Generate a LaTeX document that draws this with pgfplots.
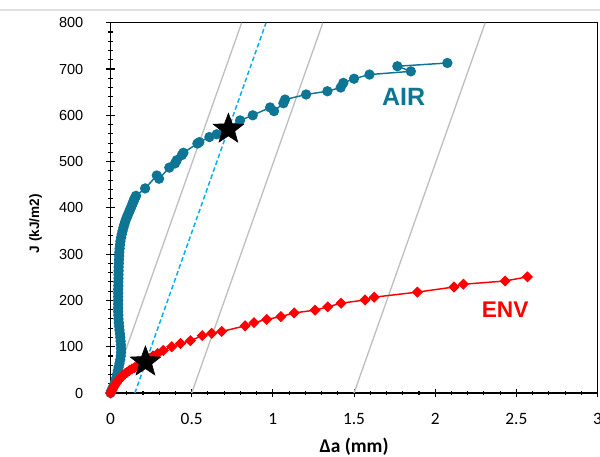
\documentclass[border=0pt]{standalone}
\usepackage{fontspec}
\setmainfont{Liberation Sans}
\newfontfamily\carlito{Carlito}
\usepackage{pgfplots}
\pgfplotsset{compat=1.18}
\definecolor{airteal}{RGB}{14,118,148}
\definecolor{envred}{RGB}{255,0,0}
\definecolor{blgray}{RGB}{191,191,191}
\definecolor{offcyan}{RGB}{0,176,240}

% filled five-pointed star
\pgfdeclareplotmark{fstar}{%
  \pgfpathmoveto{\pgfpointpolar{90}{\pgfplotmarksize}}%
  \pgfpathlineto{\pgfpointpolar{126}{0.42\pgfplotmarksize}}%
  \pgfpathlineto{\pgfpointpolar{162}{\pgfplotmarksize}}%
  \pgfpathlineto{\pgfpointpolar{198}{0.42\pgfplotmarksize}}%
  \pgfpathlineto{\pgfpointpolar{234}{\pgfplotmarksize}}%
  \pgfpathlineto{\pgfpointpolar{270}{0.42\pgfplotmarksize}}%
  \pgfpathlineto{\pgfpointpolar{306}{\pgfplotmarksize}}%
  \pgfpathlineto{\pgfpointpolar{342}{0.42\pgfplotmarksize}}%
  \pgfpathlineto{\pgfpointpolar{18}{\pgfplotmarksize}}%
  \pgfpathlineto{\pgfpointpolar{54}{0.42\pgfplotmarksize}}%
  \pgfpathclose
  \pgfusepathqfillstroke}

\begin{document}
\begin{tikzpicture}
\useasboundingbox (0,0) rectangle (450pt,342.75pt);
\draw[gray!25, line width=0.8pt] (0,335.25pt) -- (450pt,335.25pt);
\begin{axis}[
  at={(82.9pt,48pt)}, anchor=south west,
  scale only axis, width=365.25pt, height=277.7pt,
  xmin=0, xmax=3, ymin=0, ymax=800,
  xtick={0,0.5,...,3}, ytick={0,100,...,800},
  minor tick num=4,
  xtick pos=bottom, ytick pos=left,
  tick align=center,
  major tick length=6.5pt, minor tick length=3.5pt,
  every tick/.style={black, line width=0.8pt},
  axis line style={black, line width=1.1pt},
  clip=false,
  /pgf/number format/assume math mode=true,
  x tick label style={font=\carlito\fontsize{13}{15}\selectfont, anchor=north, inner sep=0pt, yshift=-12pt},
  y tick label style={font=\fontsize{10.9}{12}\selectfont, anchor=east, inner sep=0pt, xshift=-17pt},
  xticklabels={0,0.5,1,1.5,2,2.5,3},
  yticklabels={0,100,200,300,400,500,600,700,800},
  xlabel={\carlito\bfseries\fontsize{14.6}{16}\selectfont Δa (mm)},
  xlabel style={at={(axis description cs:0.5,0)}, anchor=center, yshift=-40.5pt},
  ylabel={\bfseries\fontsize{10.2}{12}\selectfont J (kJ/m2)},
  ylabel style={at={(axis description cs:-0.154,0.457)}, anchor=center},
]
% blunting / exclusion lines
\addplot[blgray, line width=1pt] coordinates {(0,0) (0.808,800)};
\addplot[blgray, line width=1pt] coordinates {(0.5,0) (1.308,800)};
\addplot[blgray, line width=1pt] coordinates {(1.5,0) (2.308,800)};
\addplot[offcyan, line width=1.1pt, dash pattern=on 3.5pt off 2pt] coordinates {(0.15,0) (0.958,800)};

% AIR
\addplot[airteal, line width=1.1pt, mark=*, mark size=3.3pt, mark options={solid, fill=airteal}] coordinates {
(0,0) (0.006,5) (0.012,10) (0.018,14) (0.024,19) (0.030,25) (0.035,32) (0.040,40)
(0.045,48) (0.050,56) (0.055,64) (0.060,72) (0.063,80) (0.065,88) (0.065,96)
(0.064,104) (0.062,112) (0.060,120) (0.058,128) (0.055,136) (0.053,144) (0.051,152)
(0.049,160) (0.048,168) (0.047,176) (0.047,184) (0.047,192) (0.047,200) (0.047,208)
(0.047,216) (0.047,224) (0.048,232) (0.048,240) (0.049,248) (0.049,256) (0.050,264)
(0.050,272) (0.051,280) (0.052,288) (0.053,296) (0.054,304) (0.056,312) (0.058,320)
(0.061,328) (0.065,336) (0.069,343) (0.074,350) (0.079,357) (0.084,363) (0.089,369)
(0.095,375) (0.101,380) (0.107,385) (0.113,390) (0.119,395) (0.125,400) (0.131,405)
(0.137,410) (0.142,415) (0.147,419) (0.151,422) (0.157,426) (0.213,442)
(0.285,470) (0.299,463) (0.362,487) (0.397,496) (0.408,503) (0.439,514) (0.449,519)
(0.535,539) (0.547,542) (0.609,553) (0.654,559) (0.798,589) (0.876,600) (0.983,617)
(1.007,609) (1.065,626) (1.075,634) (1.205,645) (1.336,652) (1.418,660) (1.434,670)
(1.500,679) (1.595,688) (1.850,695) (1.767,706) (2.075,713)
};

% ENV
\addplot[envred, line width=1.1pt, mark=square*, mark size=2.4pt, mark options={solid, fill=envred, rotate=45}] coordinates {
(0,0) (0.008,6) (0.016,11) (0.025,16) (0.035,21) (0.045,26) (0.055,30) (0.066,34)
(0.078,38) (0.090,42) (0.103,45) (0.117,49) (0.132,52) (0.148,55) (0.165,58)
(0.183,61) (0.200,64) (0.220,68) (0.240,74) (0.262,80) (0.290,85) (0.325,92)
(0.377,100) (0.431,107) (0.492,113) (0.565,124) (0.623,129) (0.685,133) (0.829,145)
(0.884,152) (0.962,159) (1.049,165) (1.131,173) (1.260,179) (1.338,186) (1.420,194)
(1.568,201) (1.624,207) (1.890,218) (2.116,229) (2.174,235) (2.431,242) (2.568,251)
};

% J at the 0.15 mm offset line
\addplot[only marks, mark=fstar, mark size=12pt, black, mark options={fill=black}] coordinates {
(0.726,570) (0.215,67)
};

\node[airteal, font=\bfseries\fontsize{18.75}{20}\selectfont] at (axis cs:1.806,639) {AIR};
\node[envred, font=\bfseries\fontsize{17}{19}\selectfont] at (axis cs:2.431,181) {ENV};
\end{axis}
\end{tikzpicture}
\end{document}
